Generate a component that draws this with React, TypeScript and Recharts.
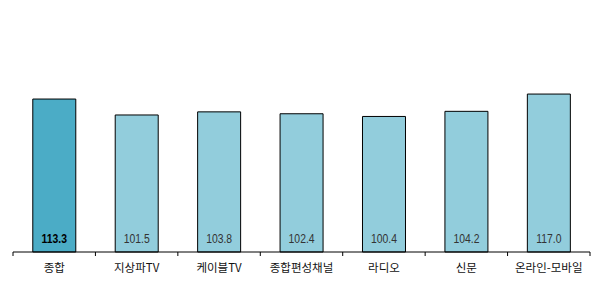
import React from "react";
import { BarChart, Bar, XAxis, YAxis, Cell, LabelList } from "recharts";

// 매체별 지수
const categories = ["종합", "지상파TV", "케이블TV", "종합편성채널", "라디오", "신문", "온라인-모바일"];
const values = [113.3, 101.5, 103.8, 102.4, 100.4, 104.2, 117.0];
const highlightIndex = 0;

const COLORS = { main: "#4BACC6", rest: "#92CDDC" };

const W = 594;
const H = 287;
const M = { top: 63, right: 4, left: 13, bottom: 0 };
const band = (W - M.left - M.right) / categories.length;

const data = categories.map((name, i) => ({ name, value: values[i] }));

const CategoryTick = (props: any) => {
  const { x, y, payload, index } = props;
  const last = index === categories.length - 1;
  return (
    <g>
      <line x1={x - band / 2} x2={x - band / 2} y1={y} y2={y + 4} stroke="#000" />
      {last && <line x1={x + band / 2} x2={x + band / 2} y1={y} y2={y + 4} stroke="#000" />}
      <text
        x={x}
        y={y + 19.5}
        textAnchor="middle"
        fontSize={11.5}
        fill="#111"
        fontFamily="'Noto Sans CJK KR', sans-serif"
      >
        {payload.value}
      </text>
    </g>
  );
};

// narrow digits, like the original
const ValueLabel = (props: any) => {
  const { x, y, width, height, value, index } = props;
  const bold = index === highlightIndex;
  const cx = x + width / 2;
  const by = y + height - 9;
  return (
    <text
      x={0}
      y={0}
      transform={`translate(${cx},${by}) scale(0.8,1)`}
      textAnchor="middle"
      fontSize={13}
      fontWeight={bold ? "bold" : "normal"}
      fill={bold ? "#000" : "#333"}
      fontFamily="'Liberation Sans', Arial, sans-serif"
    >
      {Number(value).toFixed(1)}
    </text>
  );
};

export default function App() {
  return (
    <div style={{ position: "absolute", left: 0, top: 0, width: W, height: H, background: "#fff" }}>
      <BarChart width={W} height={H} data={data} margin={M} barCategoryGap="24%">
        <XAxis
          dataKey="name"
          height={35}
          tickSize={0}
          tickMargin={0}
          axisLine={{ stroke: "#000", strokeWidth: 1 }}
          tickLine={false}
          tick={<CategoryTick />}
          interval={0}
        />
        <YAxis hide domain={[0, 140]} />
        <Bar dataKey="value" stroke="#000" strokeWidth={1} isAnimationActive={false}>
          {data.map((entry, i) => (
            <Cell key={`cell-${i}`} fill={i === highlightIndex ? COLORS.main : COLORS.rest} />
          ))}
          <LabelList dataKey="value" content={<ValueLabel />} />
        </Bar>
      </BarChart>
    </div>
  );
}
